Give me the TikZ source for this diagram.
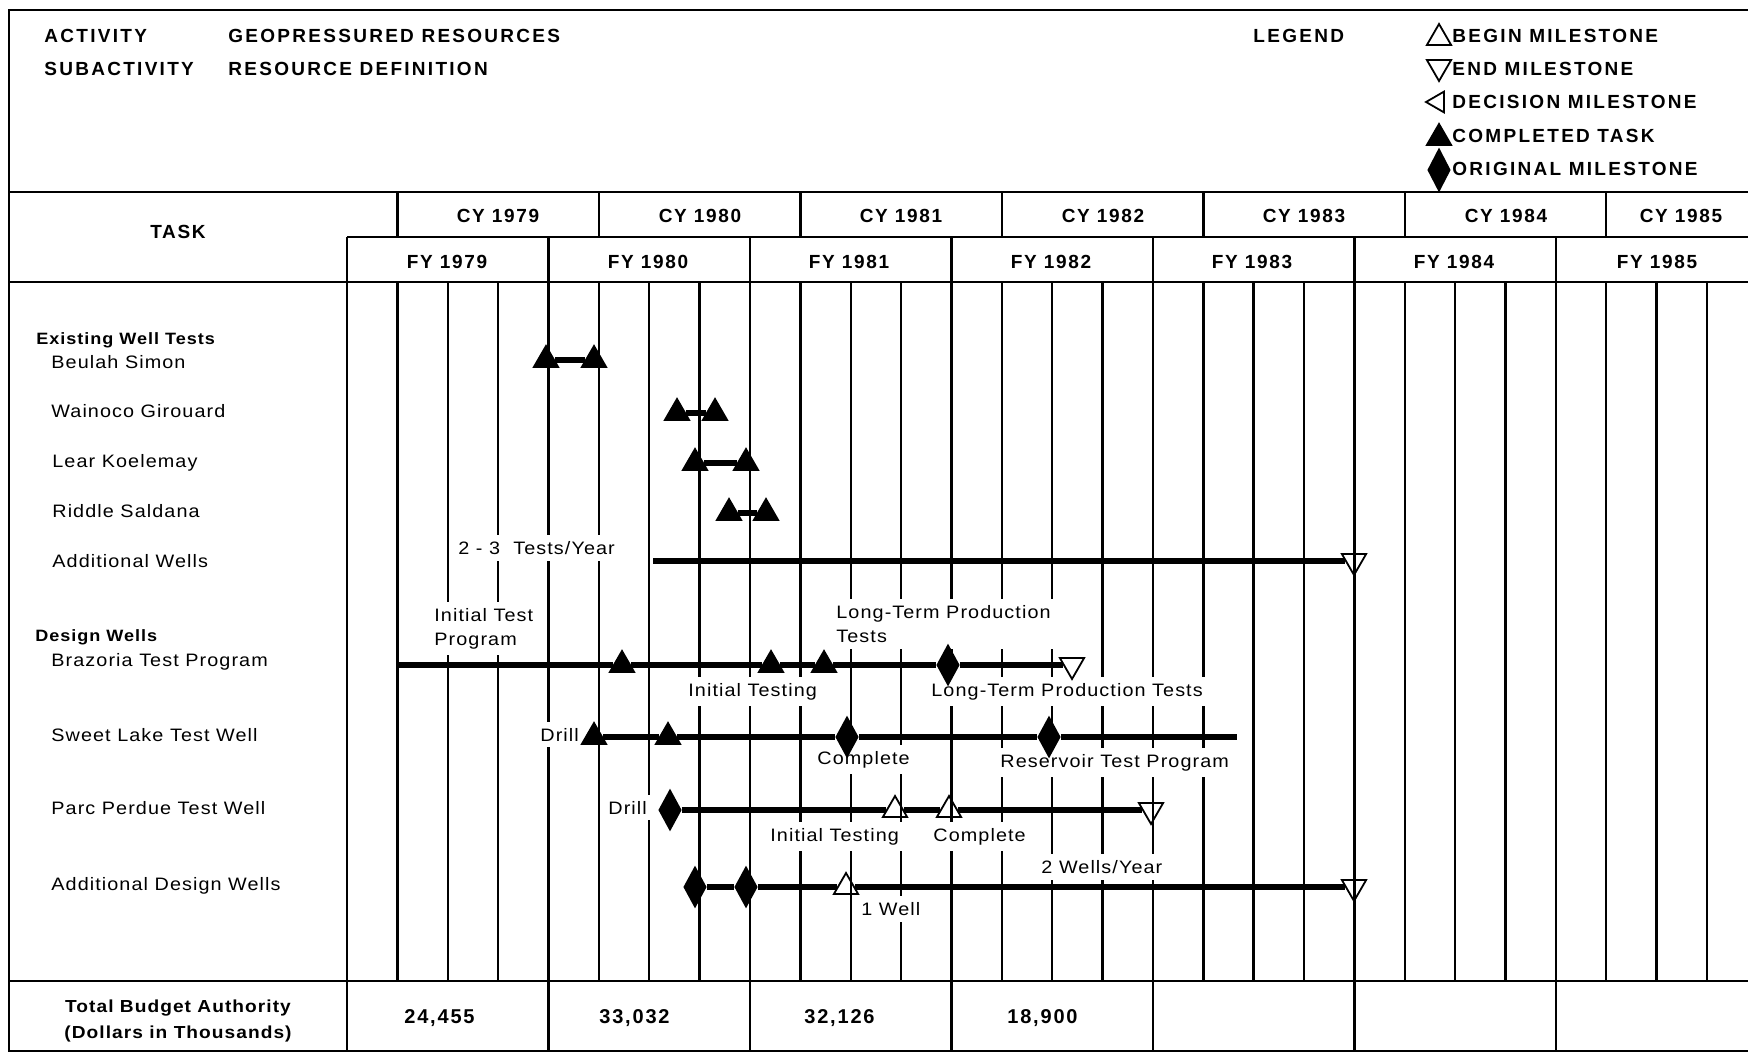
\documentclass[tikz,border=0pt]{standalone}
\usepackage{fontspec}
\setmainfont{Liberation Sans}
\newfontfamily\hdrfont[LetterSpace=12]{Liberation Sans}
\newfontfamily\yrfont[LetterSpace=9]{Liberation Sans}
\newfontfamily\chartfont[FakeStretch=1.1,LetterSpace=6]{Liberation Sans}
\usetikzlibrary{shapes.geometric}
\tikzset{
  gridline/.style={line width=1.2pt},
  frameline/.style={line width=1.3pt},
  hdr/.style={font=\hdrfont\bfseries\fontsize{9.5}{11}\selectfont, inner sep=0pt, anchor=base west, yshift=-3.4pt},
  yr/.style={font=\yrfont\bfseries\fontsize{9.5}{11}\selectfont, inner sep=0pt, anchor=base, yshift=-3.4pt},
  num/.style={font=\yrfont\bfseries\fontsize{10}{12}\selectfont, inner sep=0pt, anchor=base west, yshift=-3.6pt},
  taskname/.style={font=\chartfont\fontsize{9}{11}\selectfont, anchor=base west, inner sep=0pt, yshift=-3.2pt},
  group/.style={font=\chartfont\bfseries\fontsize{8.2}{10}\selectfont, anchor=base west, inner sep=0pt, yshift=-3pt},
  budget/.style={font=\chartfont\bfseries\fontsize{8.7}{10}\selectfont, anchor=base, inner sep=0pt, yshift=-3.1pt},
  lbl/.style={font=\chartfont\fontsize{9}{12}\selectfont, anchor=base west, fill=white, inner xsep=2pt, inner ysep=3pt, align=left, yshift=-3.2pt},
  bar/.style={line width=3.2pt},
  shortbar/.style={line width=2.6pt},
  tri/.style={regular polygon, regular polygon sides=3, minimum size=14pt, inner sep=0pt, draw, line width=0.9pt},
  msdone/.style={tri, fill=black},
  msbegin/.style={tri},
  msend/.style={tri, shape border rotate=180},
  msdec/.style={tri, shape border rotate=90, minimum size=12pt},
  msorig/.style={diamond, draw, fill=black, inner sep=0pt, minimum width=11pt, minimum height=20pt, line width=0.8pt},
}
\begin{document}
\begin{tikzpicture}[x=0.5pt,y=-0.5pt]
\useasboundingbox (0,0) rectangle (1748,1054);
% frame
\draw[frameline] (1748,10) -- (9,10) -- (9,1051) -- (1748,1051);
\draw[frameline] (9,192) -- (1748,192);
\draw[frameline] (347,237) -- (1748,237);
\draw[frameline] (9,282) -- (1748,282);
\draw[frameline] (9,981) -- (1748,981);
% grid
\foreach \i in {0,...,27} { \draw[gridline] ({347+50.37*\i},282) -- ({347+50.37*\i},981); }
\foreach \i in {0,4,...,24} {
  \draw[gridline] ({347+50.37*\i},237) -- ({347+50.37*\i},282);
  \draw[gridline] ({347+50.37*\i},981) -- ({347+50.37*\i},1051); }
\foreach \i in {1,5,...,25} { \draw[gridline] ({347+50.37*\i},192) -- ({347+50.37*\i},237); }

% header texts
\node[hdr] (act) at (44,36) {ACTIVITY};
\node[hdr] (actv) at (228,36) {GEOPRESSURED RESOURCES};
\node[hdr] (sub) at (44,69) {SUBACTIVITY};
\node[hdr] (subv) at (228,69) {RESOURCE DEFINITION};
\node[hdr] (leg) at (1253,36) {LEGEND};
\node[msbegin] (lg1) at (1439,38) {};
\node[hdr] (lt1) at (1452,36) {BEGIN MILESTONE};
\node[msend] (lg2) at (1439,67) {};
\node[hdr] (lt2) at (1452,69) {END MILESTONE};
\node[msdec] (lg3) at (1438,102) {};
\node[hdr] (lt3) at (1452,102) {DECISION MILESTONE};
\node[msdone] (lg4) at (1439,138) {};
\node[hdr] (lt4) at (1452,136) {COMPLETED TASK};
\node[msorig, minimum height=21pt] (lg5) at (1439,170) {};
\node[hdr] (lt5) at (1452,169) {ORIGINAL MILESTONE};

% year headers
\node[yr, anchor=base] (task) at (178,232) {TASK};
\node[yr] (cy79) at (498,216) {CY 1979};
\node[yr] (cy80) at (700,216) {CY 1980};
\node[yr] (cy81) at (901,216) {CY 1981};
\node[yr] (cy82) at (1103,216) {CY 1982};
\node[yr] (cy83) at (1304,216) {CY 1983};
\node[yr] (cy84) at (1506,216) {CY 1984};
\node[yr] (cy85) at (1681,216) {CY 1985};
\node[yr] (fy79) at (447,262) {FY 1979};
\node[yr] (fy80) at (648,262) {FY 1980};
\node[yr] (fy81) at (849,262) {FY 1981};
\node[yr] (fy82) at (1051,262) {FY 1982};
\node[yr] (fy83) at (1252,262) {FY 1983};
\node[yr] (fy84) at (1454,262) {FY 1984};
\node[yr] (fy85) at (1657,262) {FY 1985};

% task names
\node[group] (g1) at (36,338) {Existing Well Tests};
\node[taskname] (t1) at (51,362) {Beulah Simon};
\node[taskname] (t2) at (51,411) {Wainoco Girouard};
\node[taskname] (t3) at (52,461) {Lear Koelemay};
\node[taskname] (t4) at (52,511) {Riddle Saldana};
\node[taskname] (t5) at (52,561) {Additional Wells};
\node[group] (g2) at (35,635) {Design Wells};
\node[taskname] (t6) at (51,660) {Brazoria Test Program};
\node[taskname] (t7) at (51,735) {Sweet Lake Test Well};
\node[taskname] (t8) at (51,808) {Parc Perdue Test Well};
\node[taskname] (t9) at (51,884) {Additional Design Wells};

% budget
\node[budget] (b1) at (178,1006) {Total Budget Authority};
\node[budget] (b2) at (178,1032) {(Dollars in Thousands)};
\node[num] (n1) at (404,1016) {24,455};
\node[num] (n2) at (599,1016) {33,032};
\node[num] (n3) at (804,1016) {32,126};
\node[num] (n4) at (1007,1016) {18,900};

% chart labels
\node[lbl] (l1) at (454,548) {2 - 3 \ Tests/Year};
\node[lbl] (l2) at (430,639) {Initial Test\\Program};
\node[lbl] (l3) at (832,636) {Long-Term Production\\Tests};
\node[lbl] (l4) at (684,690) {Initial Testing};
\node[lbl] (l5) at (927,690) {Long-Term Production Tests};
\node[lbl] (l6) at (536,735) {Drill};
\node[lbl] (l7) at (813,758) {Complete};
\node[lbl] (l8) at (996,761) {Reservoir Test Program};
\node[lbl] (l9) at (604,808) {Drill};
\node[lbl] (l10) at (766,835) {Initial Testing};
\node[lbl] (l11) at (929,835) {Complete};
\node[lbl] (l12) at (1037,867) {2 Wells/Year};
\node[lbl] (l13) at (857,909) {1 Well};

% existing well tests
\node[msdone] (bs1) at (546,360) {};
\node[msdone] (bs2) at (594,360) {};
\draw[shortbar] (bs1) -- (bs2);
\node[msdone] (wg1) at (677,413) {};
\node[msdone] (wg2) at (715,413) {};
\draw[shortbar] (wg1) -- (wg2);
\node[msdone] (lk1) at (695,463) {};
\node[msdone] (lk2) at (746,463) {};
\draw[shortbar] (lk1) -- (lk2);
\node[msdone] (rs1) at (729,513) {};
\node[msdone] (rs2) at (766,513) {};
\draw[shortbar] (rs1) -- (rs2);
\coordinate (aw0) at (653,561);
\node[msend] (aw1) at (1354,561) {};
\draw[bar] (aw0) -- (aw1);

% Brazoria
\coordinate (br0) at (399,665);
\node[msdone] (br1) at (622,665) {};
\node[msdone] (br2) at (771,665) {};
\node[msdone] (br3) at (824,665) {};
\node[msorig] (br4) at (948,665) {};
\node[msend] (br5) at (1072,665) {};
\draw[bar] (br0) -- (br1) -- (br2) -- (br3) -- (br4) -- (br5);

% Sweet Lake
\node[msdone] (sl1) at (594,737) {};
\node[msdone] (sl2) at (668,737) {};
\node[msorig] (sl3) at (847,737) {};
\node[msorig] (sl4) at (1049,737) {};
\coordinate (sl5) at (1237,737);
\draw[bar] (sl1) -- (sl2) -- (sl3) -- (sl4) -- (sl5);

% Parc Perdue
\node[msorig] (pp1) at (670,810) {};
\node[msbegin] (pp2) at (895,810) {};
\node[msbegin] (pp3) at (949,810) {};
\node[msend] (pp4) at (1151,810) {};
\draw[bar] (pp1) -- (pp2);
\draw[bar] (pp2) -- (pp3);
\draw[bar] (pp3) -- (pp4);

% Additional design wells
\node[msorig] (ad1) at (695,887) {};
\node[msorig] (ad2) at (746,887) {};
\node[msbegin] (ad3) at (846,887) {};
\node[msend] (ad4) at (1354,887) {};
\draw[bar] (ad1) -- (ad2);
\draw[bar] (ad2) -- (ad3);
\draw[bar] (ad3) -- (ad4);
\end{tikzpicture}
\end{document}
